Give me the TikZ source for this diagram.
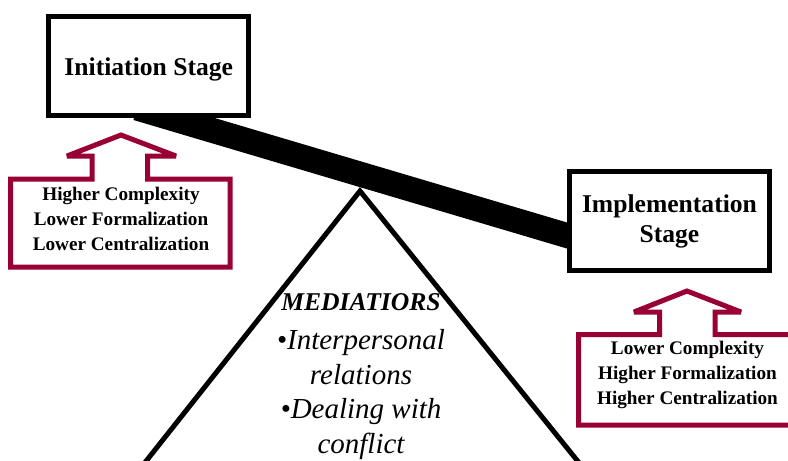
\documentclass[tikz,border=0pt]{standalone}
\usepackage{fontspec}
\setmainfont{Liberation Serif}
\usepackage{xcolor}
\usetikzlibrary{positioning,calc}
\definecolor{wine}{RGB}{153,0,51}

\begin{document}
\begin{tikzpicture}[
    x=1pt, y=-1pt,
    stage/.style={rectangle, draw=black, line width=5pt, fill=white, minimum width=200pt, minimum height=99.5pt, align=center, font=\fontsize{25.6}{30}\selectfont\bfseries},
    factors/.style={align=center, font=\fontsize{19.2}{25}\selectfont\bfseries},
    uparrow/.style={draw=wine, line width=5pt, fill=white, miter limit=3},
    beam/.style={line width=25pt, black},
    fulcrum/.style={draw=black, line width=5pt},
    mediator/.style={align=center, font=\fontsize{29}{34.5}\selectfont\itshape},
]

% Frame
\useasboundingbox (0,0) rectangle (788,461);
\clip (0,0) rectangle (788,461);

% Fulcrum
\draw[fulcrum] (143.8,464) -- (360,191) -- (580,464) -- cycle;
\node[mediator] (mediators) at (361,376.5) {{\bfseries\fontsize{25.6}{30}\selectfont MEDIATIORS}\\[4.5pt]
    \textbullet Interpersonal\\
    relations\\
    \textbullet Dealing with\\
    conflict};

% Beam
\coordinate (beamL) at (137,108);
\coordinate (beamR) at (600,245.3);
\draw[beam] (beamL) -- (beamR);

% Stages
\node[stage, text height=26pt, text depth=6pt] (init) at (148.75,65.75) {Initiation Stage};
\node[stage] (impl) at (669.5,221) {Implementation\\Stage};

% Arrows - initiation factors
\draw[uparrow] (10.5,267) -- (10.5,179) -- (92,179) -- (92,156) -- (67,156) -- (121,135)
    -- (176,156) -- (147.5,156) -- (147.5,179) -- (230,179) -- (230,267) -- cycle;
\node[factors] (initfactors) at (121,219) {Higher Complexity\\Lower Formalization\\Lower Centralization};

% Arrows - implementation factors
\draw[uparrow] (578.5,425) -- (578.5,334.5) -- (659.5,334.5) -- (659.5,312) -- (634,312) -- (687,291)
    -- (741,312) -- (715,312) -- (715,334.5) -- (800,334.5) -- (800,425) -- cycle;
\node[factors] (implfactors) at (687.5,375) {Lower Complexity\\Higher Formalization\\Higher Centralization};

\end{tikzpicture}
\end{document}
